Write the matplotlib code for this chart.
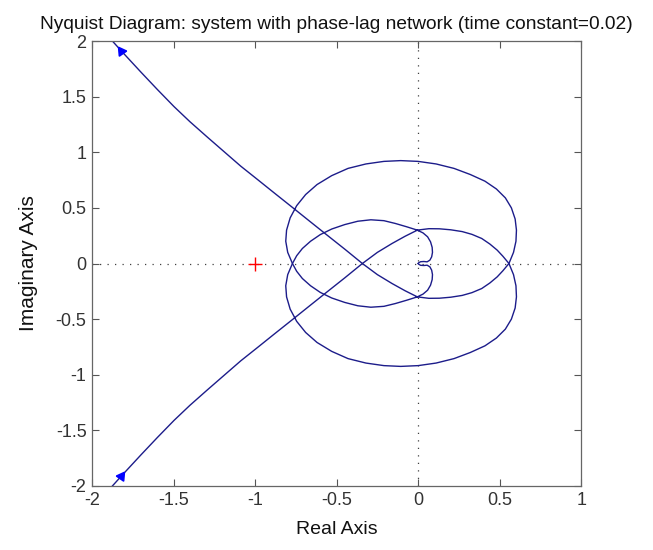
import matplotlib
matplotlib.use("Agg")
import matplotlib.pyplot as plt

plt.rcParams['font.family'] = ['Liberation Sans', 'DejaVu Sans']
plt.rcParams['axes.unicode_minus'] = False

# one branch of the Nyquist curve (in order along the branch)
# the other branch is its mirror image about the real axis
diag_re = [-1.90, -1.82, -1.70, -1.60, -1.497, -1.40, -1.292, -1.19, -1.088, -0.986,
           -0.884, -0.77, -0.667, -0.567, -0.45, -0.342, -0.25, -0.16, -0.08, -0.005]
diag_im = [-2.04, -1.91, -1.72, -1.565, -1.41, -1.275, -1.135, -1.005, -0.875, -0.756,
           -0.636, -0.503, -0.382, -0.265, -0.129, 0.0, 0.10, 0.18, 0.245, 0.30]

right_re = [0.066, 0.13, 0.20, 0.27, 0.33, 0.39, 0.44, 0.485, 0.52, 0.557]
right_im = [0.313, 0.312, 0.303, 0.287, 0.262, 0.225, 0.175, 0.12, 0.065, 0.0]

outer_re = [0.585, 0.600, 0.603, 0.595, 0.572, 0.535, 0.48, 0.41, 0.32, 0.22, 0.11,
            0.0, -0.107, -0.21, -0.32, -0.43, -0.53, -0.62, -0.69, -0.745, -0.785,
            -0.807, -0.812, -0.80, -0.771]
outer_im = [-0.10, -0.20, -0.30, -0.40, -0.50, -0.59, -0.67, -0.74, -0.80, -0.855,
            -0.895, -0.918, -0.925, -0.918, -0.895, -0.855, -0.79, -0.71, -0.62, -0.52,
            -0.41, -0.30, -0.20, -0.10, 0.0]

left_re = [-0.745, -0.71, -0.66, -0.60, -0.53, -0.45, -0.37, -0.29, -0.21, -0.14,
           -0.07, -0.005]
left_im = [0.07, 0.135, 0.20, 0.26, 0.31, 0.35, 0.38, 0.393, 0.385, 0.36, 0.33, 0.30]

heart_re = [0.03, 0.058, 0.076, 0.086, 0.088, 0.083, 0.072, 0.055, 0.035, 0.015,
            0.004, 0.0]
heart_im = [0.275, 0.24, 0.195, 0.145, 0.10, 0.06, 0.03, 0.015, 0.018, 0.016,
            0.007, 0.0]

arrow_idx = 1  # point of diag where the direction arrow sits

xticks = [-2, -1.5, -1, -0.5, 0, 0.5, 1]
yticks = [-2, -1.5, -1, -0.5, 0, 0.5, 1, 1.5, 2]

re = diag_re + right_re + outer_re + left_re + heart_re
im = diag_im + right_im + outer_im + left_im + heart_im
im_neg = [-v for v in im]

fig = plt.figure(figsize=(6.53, 5.5), dpi=100)
ax = fig.add_axes([0.141, 0.1164, 0.749, 0.809])

ax.axhline(0, color='#404040', lw=0.9, ls=(0, (1, 5)), zorder=1)
ax.axvline(0, color='#404040', lw=0.9, ls=(0, (1, 5)), zorder=1)

col = '#1c1c8a'
ax.plot(re, im, color=col, lw=1.0, zorder=2)
ax.plot(re, im_neg, color=col, lw=1.0, zorder=2)

# arrows: lower branch heads up-right, upper branch heads up-left
ax.plot(diag_re[arrow_idx], diag_im[arrow_idx], marker=(3, 0, -35), color='blue',
        markersize=7.5, zorder=3)
ax.plot(diag_re[arrow_idx], -diag_im[arrow_idx], marker=(3, 0, 35), color='blue',
        markersize=7.5, zorder=3)

# critical point
ax.plot(-1, 0, marker='+', color='red', markersize=10, mew=1.0, zorder=3)

ax.set_xlim(-2, 1)
ax.set_ylim(-2, 2)
ax.set_xticks(xticks)
ax.set_xticklabels([f'{t:g}' for t in xticks])
ax.set_yticks(yticks)
ax.set_yticklabels([f'{t:g}' for t in yticks])
ax.tick_params(direction='in', top=True, right=True, length=5, width=0.8,
               colors='#555555', labelcolor='#333333', labelsize=13, pad=4)
for s in ax.spines.values():
    s.set_color('#666666')
    s.set_linewidth(0.9)

ax.set_xlabel('Real Axis', fontsize=14, color='#111111', labelpad=9)
ax.set_ylabel('Imaginary Axis', fontsize=15, color='#111111', labelpad=13)
ax.set_title('Nyquist Diagram: system with phase-lag network (time constant=0.02)',
             fontsize=13.8, color='#111111', pad=9)

plt.savefig('out.png', dpi=100)
